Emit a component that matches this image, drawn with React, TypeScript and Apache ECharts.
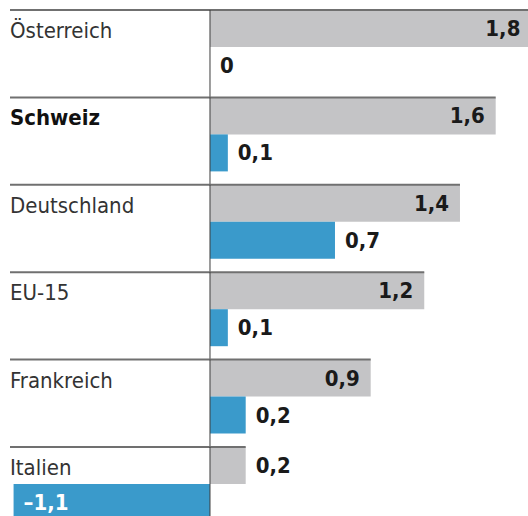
import React, { useEffect, useRef } from 'react';
import * as echarts from 'echarts';

const categories = ['Österreich', 'Schweiz', 'Deutschland', 'EU-15', 'Frankreich', 'Italien'];
const grayValues = [1.8, 1.6, 1.4, 1.2, 0.9, 0.2];
const blueValues = [0, 0.1, 0.7, 0.1, 0.2, -1.1];
const boldCategory = 'Schweiz';

const FONT = "'DejaVu Sans Condensed', 'DejaVu Sans', sans-serif";
const BAR_W = 37;
const GRAY = '#c4c4c6';
const BLUE = '#3a9acb';

const fmt = (v: number) => (v < 0 ? '–' : '') + Math.abs(v).toString().replace('.', ',');

export default function App() {
  const ref = useRef<HTMLDivElement>(null);
  useEffect(() => {
    document.body.style.margin = '0';
    const chart = echarts.init(ref.current!, null, { renderer: 'svg' });
    const valueLabel = {
      show: true,
      fontFamily: FONT,
      fontSize: 22,
      fontWeight: 'bold',
      color: '#1a1a1a',
      formatter: (p: any) => fmt(p.value),
    };
    chart.setOption({
      animation: false,
      grid: {
        left: 10,
        top: 3.3,
        width: 521.4,
        height: 524.4,
        containLabel: false,
        outerBoundsMode: 'none',
      },
      xAxis: { type: 'value', min: -1.12, max: 1.8, show: false },
      yAxis: {
        type: 'category',
        inverse: true,
        data: categories,
        axisLine: { show: false, onZero: false },
        axisTick: { show: false },
        splitLine: { show: false },
        axisLabel: {
          show: true,
          align: 'left',
          margin: 0,
          verticalAlign: 'bottom',
          lineHeight: 33,
          formatter: (v: string) => (v === boldCategory ? `{b|${v}}` : `{n|${v}}`),
          rich: {
            n: { fontFamily: FONT, fontSize: 22, color: '#333', lineHeight: 33 },
            b: { fontFamily: FONT, fontSize: 22, fontWeight: 'bold', color: '#111', lineHeight: 33 },
          },
        },
      },
      series: [
        {
          type: 'bar',
          name: 'gray',
          data: grayValues.map((v) =>
            v < 0.3 ? { value: v, label: { position: 'right', distance: 10 } } : v
          ),
          barWidth: BAR_W,
          barGap: '0%',
          itemStyle: { color: GRAY },
          label: { ...valueLabel, position: 'insideRight', distance: 11 },
          z: 2,
        },
        {
          type: 'bar',
          name: 'blue',
          data: blueValues.map((v) =>
            v < 0 ? { value: v, label: { position: 'insideLeft', distance: 10, color: '#fff' } } : v
          ),
          barWidth: BAR_W,
          barGap: '0%',
          itemStyle: { color: BLUE },
          label: { ...valueLabel, position: 'right', distance: 10 },
          z: 2,
        },
        {
          type: 'custom',
          silent: true,
          z: 5,
          data: grayValues.map((v, i) => [v, i]),
          renderItem: (params: any, api: any) => {
            const idx = api.value(1);
            const c0 = api.coord([0, idx]);
            const ce = api.coord([api.value(0), idx]);
            const band = api.size([0, 1])[1];
            const cs = params.coordSys;
            const top = c0[1] - BAR_W;
            const right = Math.min(ce[0], cs.x + cs.width);
            return {
              type: 'group',
              children: [
                {
                  type: 'line',
                  shape: { x1: cs.x, y1: top, x2: right, y2: top },
                  style: { stroke: '#707070', lineWidth: 2 },
                },
                {
                  type: 'line',
                  shape: { x1: c0[0], y1: top, x2: c0[0], y2: top + band },
                  style: { stroke: '#3c3c3c', lineWidth: 1 },
                },
              ],
            };
          },
        },
      ],
    });
    return () => chart.dispose();
  }, []);
  return <div ref={ref} style={{ width: 528, height: 516 }} />;
}
